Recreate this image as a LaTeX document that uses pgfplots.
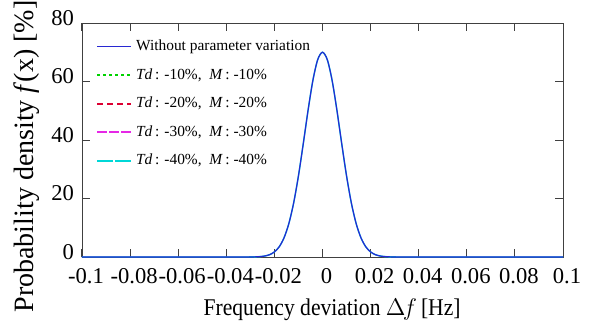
\documentclass[border=0pt]{standalone}
\usepackage{fontspec}
\setmainfont{Liberation Serif}
\usepackage{pgfplots}
\pgfplotsset{compat=1.18}
\usepackage{pgfplotstable}
\definecolor{cblue}{RGB}{40,40,210}
\definecolor{cgreen}{RGB}{0,210,0}
\definecolor{cred}{RGB}{220,0,50}
\definecolor{cmag}{RGB}{230,40,230}
\definecolor{ccyan}{RGB}{0,215,215}
\pgfplotstableread{
x y
-0.100 0
-0.040 0
-0.030 0.02
-0.028 0.05
-0.026 0.13
-0.024 0.34
-0.022 0.79
-0.020 1.73
-0.018 3.49
-0.016 6.55
-0.014 11.41
-0.012 18.46
-0.010 27.74
-0.008 38.71
-0.006 50.16
-0.004 60.36
-0.002 67.45
0.000 70.00
0.002 67.45
0.004 60.36
0.006 50.16
0.008 38.71
0.010 27.74
0.012 18.46
0.014 11.41
0.016 6.55
0.018 3.49
0.020 1.73
0.022 0.79
0.024 0.34
0.026 0.13
0.028 0.05
0.030 0.02
0.040 0
0.100 0
}\basecase
\pgfplotstableread{
x y
-0.100 0
-0.040 0
-0.030 0.02
-0.028 0.05
-0.026 0.13
-0.024 0.34
-0.022 0.79
-0.020 1.73
-0.018 3.49
-0.016 6.55
-0.014 11.41
-0.012 18.46
-0.010 27.74
-0.008 38.71
-0.006 50.16
-0.004 60.36
-0.002 67.45
0.000 70.00
0.002 67.45
0.004 60.36
0.006 50.16
0.008 38.71
0.010 27.74
0.012 18.46
0.014 11.41
0.016 6.55
0.018 3.49
0.020 1.73
0.022 0.79
0.024 0.34
0.026 0.13
0.028 0.05
0.030 0.02
0.040 0
0.100 0
}\variation
\begin{document}
\begin{tikzpicture}
\useasboundingbox (-41pt,-32.5pt) rectangle (254pt,128.5pt);
\begin{axis}[
  scale only axis,
  width=240.5pt, height=117pt,
  xmin=-0.1, xmax=0.1, ymin=0, ymax=80,
  xtick={-0.1,-0.08,...,0.1},
  xticklabels={-0.1,-0.08,-0.06,-0.04,-0.02,0,0.02,0.04,0.06,0.08,0.1},
  ytick={0,20,40,60,80},
  yticklabels={0,20,40,60,80},
  tick label style={font=\fontsize{11.3}{13}\selectfont},
  xticklabel style={yshift=-2pt, xshift=2pt},
  yticklabel style={yshift=2.5pt, xshift=-0.5pt},
  axis line style={draw=black!75},
  tick style={draw=black!75, line width=0.5pt},
  major tick length=4pt,
  xlabel={Frequency deviation $\Delta\mkern-2mu f$\,[Hz]},
  ylabel={Probability density \textit{f}(x) [\%]},
  every axis x label/.style={at={(axis description cs:0.52,-0.25)}, anchor=base,
    font=\fontsize{12}{14}\selectfont\addfontfeature{FakeStretch=0.9}},
  every axis y label/.style={at={(axis description cs:-0.115,0.43)}, rotate=90, anchor=center, font=\fontsize{14}{16}\selectfont},
  legend style={draw=none, fill=none, at={(axis description cs:0.025,0.955)}, anchor=north west,
    font=\fontsize{7.7}{8.5}\selectfont, row sep=3.4pt, inner sep=1pt},
  legend cell align=left,
]
\addlegendimage{cblue, line width=0.7pt}
\addlegendentry{Without parameter variation}
\addlegendimage{cgreen, line width=0.8pt, dash pattern=on 1.5pt off 1.5pt}
\addlegendentry{\textit{Td}\,: -10\%, \ \textit{M}\,: -10\%}
\addlegendimage{cred, line width=0.8pt, dash pattern=on 3pt off 2pt}
\addlegendentry{\textit{Td}\,: -20\%, \ \textit{M}\,: -20\%}
\addlegendimage{cmag, line width=0.8pt, dash pattern=on 5pt off 1pt}
\addlegendentry{\textit{Td}\,: -30\%, \ \textit{M}\,: -30\%}
\addlegendimage{ccyan, line width=0.8pt, dash pattern=on 8pt off 1pt}
\addlegendentry{\textit{Td}\,: -40\%, \ \textit{M}\,: -40\%}
\addplot[forget plot, ccyan, line width=0.7pt, smooth] table[x=x,y=y] {\variation};
\addplot[forget plot, cblue, line width=0.6pt, smooth] table[x=x,y=y] {\basecase};
\end{axis}
\end{tikzpicture}
\end{document}
